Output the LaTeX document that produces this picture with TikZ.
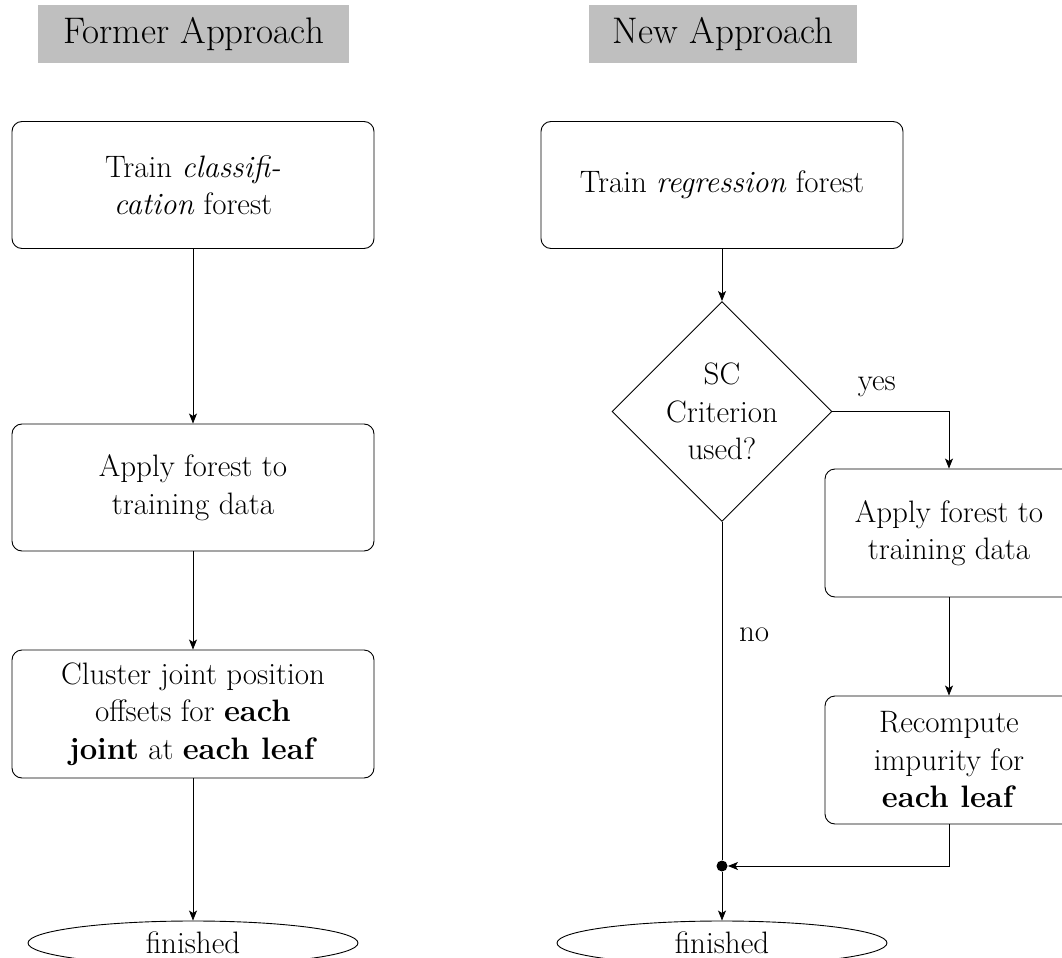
\documentclass[tikz,border=0pt]{standalone}
\usetikzlibrary{shapes.geometric,arrows.meta}
\begin{document}
\begin{tikzpicture}[x=0.5pt,y=-0.5pt,line width=0.45pt,
  every node/.style={font=\fontsize{15.5}{18.75}\selectfont},
  heading/.style={fill=black!25, inner sep=0pt, minimum height=29pt,
    font=\fontsize{18.5}{22}\selectfont},
  process/.style={draw, rounded corners=5pt, align=center, inner sep=0pt,
    minimum width=181pt, minimum height=63.5pt},
  narrowproc/.style={process, minimum width=124pt, minimum height=64pt},
  decision/.style={draw, diamond, aspect=1, align=center, inner sep=0pt,
    minimum width=110pt, minimum height=110pt},
  terminal/.style={draw, ellipse, inner sep=0pt,
    minimum width=165pt, minimum height=22pt},
  joint/.style={circle, fill, inner sep=0pt, minimum size=5.5pt},
  flow/.style={-{Stealth[length=5pt,width=4pt,inset=1.2pt]}}
]
\useasboundingbox (0,0) rectangle (1062,958);
\clip (0,0) rectangle (1062,958);

% headings
\node[heading, minimum width=155.5pt] (hleft) at (193.5,34) {Former Approach};
\node[heading, minimum width=134pt] (hright) at (723,34) {New Approach};

% former approach
\node[process] (l1) at (193,185) {Train \textit{classifi-}\\\textit{cation} forest};
\node[process] (l2) at (193,487.5) {Apply forest to\\training data};
\node[process, minimum height=64pt] (l3) at (193,714)
  {Cluster joint position\\offsets for \textbf{each}\\\textbf{joint} at \textbf{each leaf}};
\node[terminal] (lend) at (193,943) {finished};

\draw[flow] (l1) -- (l2);
\draw[flow] (l2) -- (l3);
\draw[flow] (l3) -- (lend);

% new approach
\node[process] (r1) at (722,185) {Train \textit{regression} forest};
\node[decision] (dec) at (722,411.5) {SC\\Criterion\\used?};
\node[narrowproc] (r2) at (949,533) {Apply forest to\\training data};
\node[narrowproc] (r3) at (949,760) {Recompute\\impurity for\\\textbf{each leaf}};
\node[joint] (join) at (722,866) {};
\node[terminal] (rend) at (722,943) {finished};

\draw[flow] (r1) -- (dec);
\draw[flow] (dec.east) -| node[pos=0.19, above=4pt] (yes) {yes} (r2.north);
\draw[flow] (r2) -- (r3);
\draw[flow] (r3.south) |- (join);
\draw (dec.south) -- node[pos=0.334, right=5pt] (no) {no} (join);
\draw[flow] (join) -- (rend);
\end{tikzpicture}
\end{document}
